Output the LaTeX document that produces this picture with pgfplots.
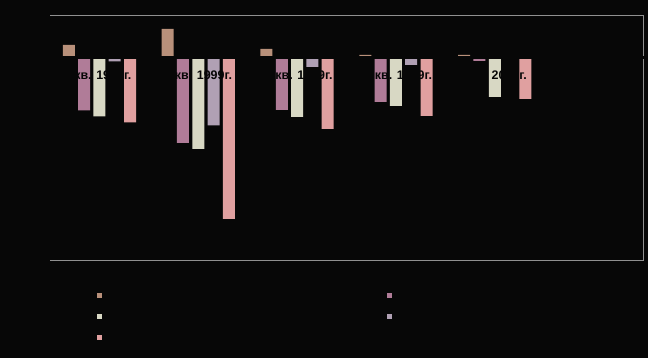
\documentclass[border=0pt]{standalone}
\usepackage{fontspec}
\setmainfont{Liberation Sans}
\usepackage{pgfplots}
\pgfplotsset{compat=1.18}
\definecolor{bg}{RGB}{7,7,7}
\definecolor{cA}{RGB}{184,144,122}
\definecolor{cB}{RGB}{176,124,152}
\definecolor{cC}{RGB}{216,216,196}
\definecolor{cD}{RGB}{176,160,180}
\definecolor{cE}{RGB}{224,160,160}
\definecolor{frame}{RGB}{144,144,144}
\tikzset{lbl/.style={anchor=base, text=bg, font=\bfseries\fontsize{12.5}{14}\selectfont, inner sep=0pt}}
\begin{document}
\begin{tikzpicture}
\fill[bg] (0bp,0bp) rectangle (648bp,358bp);
\begin{axis}[
  at={(50bp,98bp)}, anchor=south west,
  scale only axis, width=593bp, height=244bp,
  xmin=-0.5, xmax=5.5, ymin=-202.5, ymax=41.5,
  axis lines=none, xtick=\empty, ytick=\empty,
  ybar=3.3bp, bar width=12bp, clip=false,
  legend columns=2,
  legend style={at={(0.0793,-0.125)}, anchor=north west, draw=none, fill=none,
    inner sep=0pt, outer sep=0pt, font=\fontsize{10}{12}\selectfont,
    text=bg,
    nodes={inner sep=0pt, text height=8bp, text depth=2bp, text width=200bp, align=left},
    /tikz/row sep=11bp, /tikz/every even column/.append style={column sep=85bp}},
  legend image code/.code={\fill[#1] (0bp,-2.5bp) rectangle (5bp,2.5bp);},
]
\addplot[fill=cA, draw=none] coordinates {(0,12.5) (1,28.5) (2,8.5) (3,2.5) (4,2.5)};
\addplot[fill=cB, draw=none] coordinates {(0,-53) (1,-85.5) (2,-52.5) (3,-44.5) (4,-3.5)};
\addplot[fill=cC, draw=none] coordinates {(0,-59) (1,-91.5) (2,-59.5) (3,-48.5) (4,-39.5)};
\addplot[fill=cD, draw=none] coordinates {(0,-4) (1,-68) (2,-9.5) (3,-7.5) (4,0)};
\addplot[fill=cE, draw=none] coordinates {(0,-65) (1,-161.5) (2,-71.5) (3,-58.5) (4,-41.5)};
\legend{Промышленность, Сельское хозяйство, Строительство, Транспорт, Торговля}
\draw[frame, line width=1bp] (rel axis cs:0,1) -- (rel axis cs:1,1) -- (rel axis cs:1,0) -- (rel axis cs:0,0);
\draw[bg, line width=3bp] (axis cs:-0.5,0) -- (axis cs:5.52,0);
\node[lbl] at (axis cs:0,-22.5) {I кв. 1999г.};
\node[lbl] at (axis cs:1,-22.5) {II кв. 1999г.};
\node[lbl] at (axis cs:2,-22.5) {III кв. 1999г.};
\node[lbl] at (axis cs:3,-22.5) {IV кв. 1999г.};
\node[lbl] at (axis cs:4,-22.5) {I кв. 2000г.};
\node[lbl] at (axis cs:5,-22.5) {II кв. 2000г.};
\end{axis}
\end{tikzpicture}
\end{document}
